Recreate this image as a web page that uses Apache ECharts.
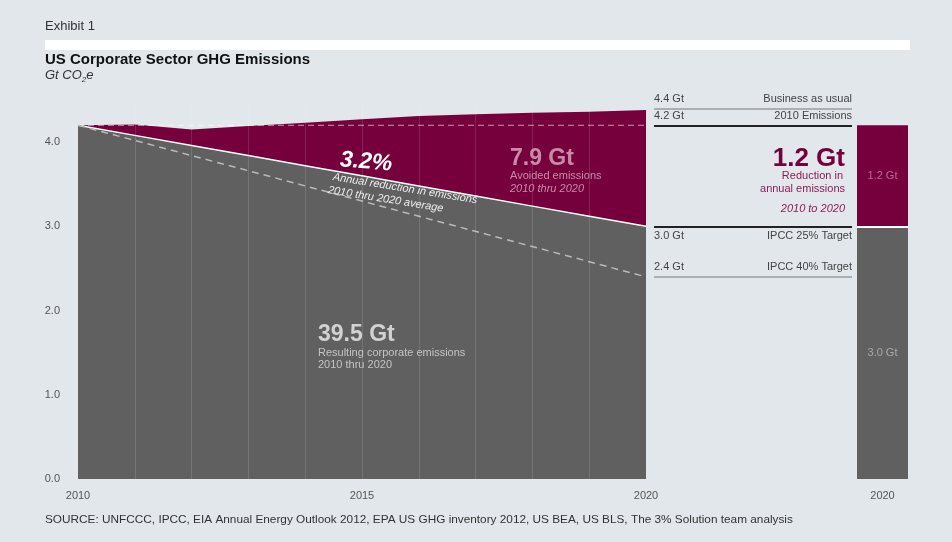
<!DOCTYPE html>
<html>
<head>
<meta charset="utf-8">
<script src="https://cdn.jsdelivr.net/npm/echarts@6/dist/echarts.min.js"></script>
<style>
  html, body { margin: 0; padding: 0; background: #e1e7ea; }
  #chart { width: 952px; height: 542px; }
</style>
</head>
<body>
<div id="chart"></div>
<script>
const years = [2010, 2011, 2012, 2013, 2014, 2015, 2016, 2017, 2018, 2019, 2020];
const businessAsUsual = [4.2, 4.21, 4.15, 4.19, 4.23, 4.27, 4.31, 4.33, 4.35, 4.36, 4.38];
const corporateEmissions = [4.2, 4.08, 3.96, 3.84, 3.72, 3.6, 3.48, 3.36, 3.24, 3.12, 3.0];
const emissions2010 = [[2010, 4.2], [2020, 4.2]];
const target40Path = [[2010, 4.2], [2020, 2.4]];
const gridYears = [2011, 2012, 2013, 2014, 2015, 2016, 2017, 2018, 2019];

const targetValues = [4.4, 4.2, 3.0, 2.4];
const targetNames = ['Business as usual', '2010 Emissions', 'IPCC 25% Target', 'IPCC 40% Target'];

const barCategory = ['2020'];
const bar2020 = [3.0];
const reduction2020 = [1.2];

const MAROON = '#75003c';
const GRAY = '#5f605f';
const FONT = '"Liberation Sans", Arial, sans-serif';

const chart = echarts.init(document.getElementById('chart'));

// reference lines on the right: one line with the value at the start, one with the name at the end
const targetLineStyle = [
    {color: '#a7abae', width: 1.5, type: 'solid'},
    {color: '#222', width: 2, type: 'solid'},
    {color: '#222', width: 2, type: 'solid'},
    {color: '#a7abae', width: 1.5, type: 'solid'}
];
const targetLabelPos = ['Top', 'Top', 'Bottom', 'Top'];
let targetMarks = [];
targetValues.forEach((v, i) => {
    const lbl = {color: '#444', fontSize: 11, fontFamily: FONT, distance: [0, 4]};
    targetMarks.push({
        yAxis: v,
        lineStyle: targetLineStyle[i],
        label: Object.assign({}, lbl, {position: 'insideStart' + targetLabelPos[i], formatter: v.toFixed(1) + ' Gt'})
    });
    targetMarks.push({
        yAxis: v,
        lineStyle: targetLineStyle[i],
        label: Object.assign({}, lbl, {position: 'insideEnd' + targetLabelPos[i], formatter: targetNames[i]})
    });
});

const yAxisBase = {
    type: 'value', min: 0, max: 4.5, interval: 1,
    axisLine: {show: false}, axisTick: {show: false}, splitLine: {show: false}
};

// text on top of the areas
const note = (x, y, text, fill, font, extra) => Object.assign({
    type: 'text', x: x, y: y, z: 100,
    style: {text: text, fill: fill, font: font + ' ' + FONT, verticalAlign: 'middle'}
}, extra || {});

let option = {
    backgroundColor: '#e1e7ea',
    animation: false,
    grid: [
        {left: 78, top: 100, width: 568, height: 379},
        {left: 654, top: 100, width: 198, height: 379},
        {left: 857, top: 100, width: 51, height: 379}
    ],
    xAxis: [
        {
            type: 'value', gridIndex: 0, min: 2010, max: 2020, interval: 5,
            axisLine: {show: false}, axisTick: {show: false}, splitLine: {show: false},
            axisLabel: {color: '#555', fontSize: 11, fontFamily: FONT, margin: 11, formatter: v => String(v)}
        },
        {type: 'value', gridIndex: 1, min: 0, max: 1, show: false},
        {
            type: 'category', gridIndex: 2, data: barCategory,
            axisLine: {show: false}, axisTick: {show: false},
            axisLabel: {color: '#555', fontSize: 11, fontFamily: FONT, margin: 11}
        }
    ],
    yAxis: [
        Object.assign({}, yAxisBase, {
            gridIndex: 0,
            axisLabel: {
                color: '#555', fontSize: 11, fontFamily: FONT, margin: 18, align: 'right',
                formatter: v => (v % 1 === 0 ? v.toFixed(1) : '')
            }
        }),
        Object.assign({}, yAxisBase, {gridIndex: 1, show: false}),
        Object.assign({}, yAxisBase, {gridIndex: 2, show: false})
    ],
    series: [
        {
            name: 'Business as usual',
            type: 'line', xAxisIndex: 0, yAxisIndex: 0, z: 1,
            data: years.map((y, i) => [y, businessAsUsual[i]]),
            symbol: 'none',
            lineStyle: {width: 0},
            areaStyle: {color: MAROON, opacity: 1}
        },
        {
            name: 'Resulting corporate emissions',
            type: 'line', xAxisIndex: 0, yAxisIndex: 0, z: 2,
            data: years.map((y, i) => [y, corporateEmissions[i]]),
            symbol: 'none',
            lineStyle: {color: '#fff', width: 1.5},
            areaStyle: {color: GRAY, opacity: 1}
        },
        {
            name: '2010 Emissions',
            type: 'line', xAxisIndex: 0, yAxisIndex: 0, z: 3,
            data: emissions2010,
            symbol: 'none',
            lineStyle: {color: 'rgba(255,255,255,0.6)', width: 1, type: [6, 4]}
        },
        {
            name: 'IPCC 40% path',
            type: 'line', xAxisIndex: 0, yAxisIndex: 0, z: 3,
            data: target40Path,
            symbol: 'none',
            lineStyle: {color: '#b9b9b9', width: 1.5, type: [7, 5]},
            markLine: {
                silent: true, symbol: 'none', label: {show: false},
                lineStyle: {color: 'rgba(255,255,255,0.13)', width: 1, type: 'solid'},
                data: gridYears.map(y => ({xAxis: y}))
            }
        },
        {
            name: 'targets',
            type: 'line', xAxisIndex: 1, yAxisIndex: 1,
            data: [[0, 4.2], [1, 4.2]],
            symbol: 'none',
            lineStyle: {width: 0},
            markLine: {
                silent: true, symbol: 'none',
                data: targetMarks
            }
        },
        {
            name: '2020 emissions',
            type: 'bar', xAxisIndex: 2, yAxisIndex: 2, stack: 'y2020',
            data: bar2020, barWidth: '100%',
            itemStyle: {color: GRAY},
            label: {show: true, position: 'inside', formatter: p => p.value.toFixed(1) + ' Gt',
                color: '#a8a9a8', fontSize: 11, fontFamily: FONT}
        },
        {
            name: 'Reduction',
            type: 'bar', xAxisIndex: 2, yAxisIndex: 2, stack: 'y2020',
            data: reduction2020, barWidth: '100%',
            itemStyle: {color: MAROON},
            label: {show: true, position: 'inside', formatter: p => p.value.toFixed(1) + ' Gt',
                color: '#c0659a', fontSize: 11, fontFamily: FONT},
            markLine: {
                silent: true, symbol: 'none', label: {show: false},
                lineStyle: {color: '#fff', width: 2, type: 'solid'},
                data: [{yAxis: bar2020[0]}]
            }
        }
    ],
    graphic: [
        {type: 'text', left: 45, top: 20, style: {text: 'Exhibit 1', fill: '#333', font: '13px ' + FONT}},
        {type: 'rect', shape: {x: 45, y: 40, width: 865, height: 10}, style: {fill: '#fff'}},
        {type: 'text', left: 45, top: 52, style: {text: 'US Corporate Sector GHG Emissions', fill: '#111', font: 'bold 15px ' + FONT}},
        {
            type: 'text', left: 45, top: 69,
            style: {
                text: '{a|Gt CO}{s|2}{a|e}',
                rich: {
                    a: {fill: '#333', font: 'italic 13px ' + FONT},
                    s: {fill: '#333', font: 'italic 8px ' + FONT, padding: [8, 0, 0, 0]}
                }
            }
        },
        // area annotations
        note(340, 160, '3.2%', '#fff', 'italic bold 23px', {rotation: -0.08}),
        note(333, 177, 'Annual reduction in emissions', '#eee', 'italic 11px', {rotation: -0.16}),
        note(328, 190, '2010 thru 2020 average', '#eee', 'italic 11px', {rotation: -0.16}),
        note(510, 159, '7.9 Gt', '#c98aa8', 'bold 23px'),
        note(510, 176, 'Avoided emissions', '#c98aa8', '11px'),
        note(510, 189, '2010 thru 2020', '#c98aa8', 'italic 11px'),
        note(318, 335, '39.5 Gt', '#d2d2d2', 'bold 23px'),
        note(318, 353, 'Resulting corporate emissions', '#c4c4c4', '11px'),
        note(318, 365, '2010 thru 2020', '#c4c4c4', '11px'),
        // reduction note on the right
        {type: 'text', x: 845, y: 159, z: 100,
            style: {text: '1.2 Gt', fill: MAROON, font: 'bold 26px ' + FONT, align: 'right', verticalAlign: 'middle'}},
        {type: 'text', x: 843, y: 176, z: 100,
            style: {text: 'Reduction in', fill: '#8c1d55', font: '11px ' + FONT, align: 'right', verticalAlign: 'middle'}},
        {type: 'text', x: 845, y: 189, z: 100,
            style: {text: 'annual emissions', fill: '#8c1d55', font: '11px ' + FONT, align: 'right', verticalAlign: 'middle'}},
        {type: 'text', x: 845, y: 209, z: 100,
            style: {text: '2010 to 2020', fill: '#8c1d55', font: 'italic 11px ' + FONT, align: 'right', verticalAlign: 'middle'}},
        {type: 'text', left: 45, top: 514,
            style: {text: 'SOURCE: UNFCCC, IPCC, EIA Annual Energy Outlook 2012, EPA US GHG inventory 2012, US BEA, US BLS, The 3% Solution team analysis',
                fill: '#333', font: '11.8px ' + FONT}}
    ]
};

chart.setOption(option);
</script>
</body>
</html>
